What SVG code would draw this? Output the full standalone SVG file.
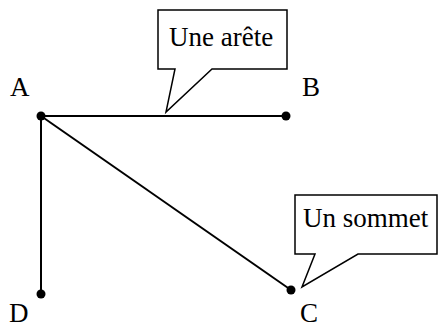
<svg xmlns="http://www.w3.org/2000/svg" width="439" height="329" viewBox="0 0 439 329">
<style>
.t{font-family:'Liberation Serif','Times New Roman','DejaVu Serif',serif;font-size:27px;fill:#000}
.e{stroke:#000;stroke-width:2;fill:none}
.v{fill:#000}
.c{fill:#fff;stroke:#000;stroke-width:1.5;stroke-linejoin:miter}
</style>
<rect width="439" height="329" fill="#fff"/>
<g id="edges">
<line class="e" x1="41" y1="116" x2="286" y2="116"/>
<line class="e" x1="41" y1="116" x2="41" y2="294"/>
<line class="e" x1="41" y1="116" x2="291" y2="290"/>
</g>
<g id="A"><circle class="v" cx="41" cy="116" r="4.5"/><text class="t" x="10" y="96">A</text></g>
<g id="B"><circle class="v" cx="286" cy="116" r="4.5"/><text class="t" x="302" y="96">B</text></g>
<g id="C"><circle class="v" cx="291" cy="290" r="4.5"/><text class="t" x="300" y="322">C</text></g>
<g id="D"><circle class="v" cx="41" cy="294" r="4.5"/><text class="t" x="9" y="322">D</text></g>
<g id="callout-edge">
<path class="c" d="M158,10 H287 V69 H212 L166,112 L175,69 H158 Z"/>
<text class="t" x="169" y="46">Une arête</text>
</g>
<g id="callout-vertex">
<path class="c" d="M295,195 H437 V254 H358 L302,287 L315,254 H295 Z"/>
<text class="t" x="303" y="227">Un sommet</text>
</g>
</svg>
